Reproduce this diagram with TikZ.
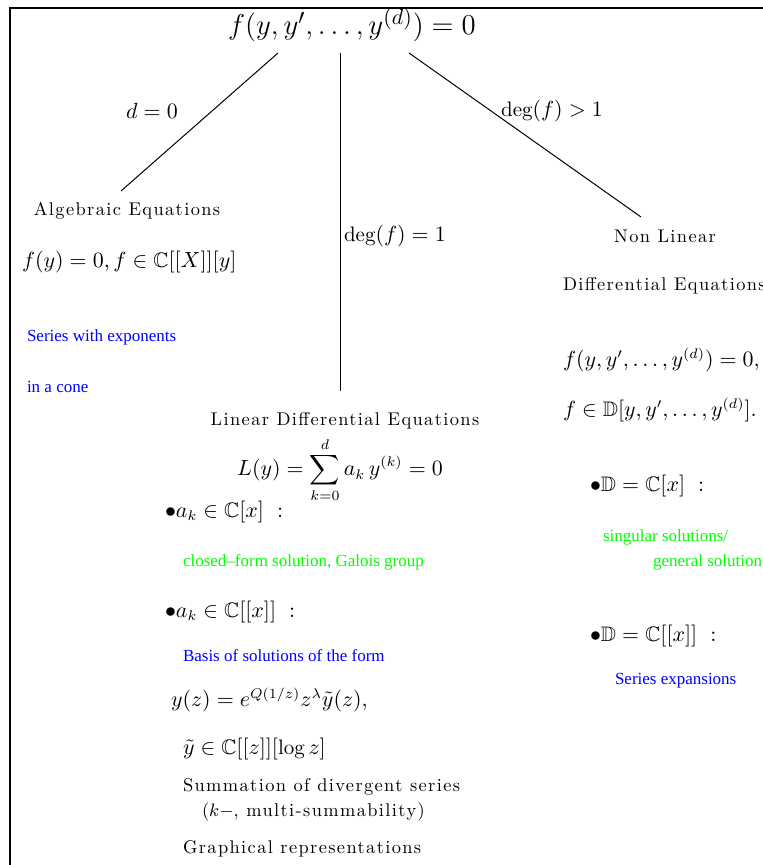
\documentclass[tikz,border=0pt]{standalone}
\usepackage{amsmath,amssymb}
\usepackage{fontspec}
\newfontfamily\tms{Liberation Serif}
\newfontfamily\lmls{lmroman10-regular.otf}[LetterSpace=7.5]
\definecolor{refblue}{RGB}{0,0,255}
\definecolor{refgreen}{RGB}{0,255,0}
\begin{document}
\begin{tikzpicture}[x=0.5pt,y=-0.5pt,
  every node/.style={inner sep=0pt, outer sep=0pt},
  lbl/.style={font=\lmls\fontsize{9.2}{11}\selectfont},
  mth/.style={font=\fontsize{10.5}{12}\selectfont},
  blu/.style={text=refblue, font=\tms\fontsize{8.5}{10}\selectfont},
  grn/.style={text=refgreen, font=\tms\fontsize{8.5}{10}\selectfont},
  edge/.style={line width=0.5pt}]
\useasboundingbox (0,0) rectangle (763,865);
\clip (0,0) rectangle (763,865);
\draw[line width=1pt] (10,8) rectangle (900,1000);

% title
\node[font=\fontsize{15.3}{18}\selectfont] (title) at (352,25) {$f(y,y',\ldots,y^{(d)})=0$};
\coordinate (tl) at (278,53);
\coordinate (tm) at (340,53);
\coordinate (tr) at (409,53);
\coordinate (el) at (121,191);
\coordinate (em) at (340,391);
\coordinate (er) at (641,217);
\draw[edge] (tl) -- (el);
\draw[edge] (tm) -- (em);
\draw[edge] (tr) -- (er);

\node[mth] (d0) at (152,111) {$d=0$};
\node[mth] (dg1) at (552,111) {$\deg(f)>1$};
\node[mth,anchor=west] (de1) at (344,236) {$\deg(f)=1$};

% left branch
\node[lbl] (alg) at (127,211) {Algebraic Equations};
\node[mth,anchor=west] (alg1) at (22,262) {$f(y)=0, f\in\mathbb{C}[[X]][y]$};
\node[blu,anchor=west] (alg2) at (27,337) {Series with exponents};
\node[blu,anchor=west] (alg3) at (27,387) {in a cone};

% right branch
\node[lbl] (nl) at (665,236) {Non Linear};
\node[lbl,anchor=west] (nl1) at (563,286) {Differential Equations};
\node[mth,anchor=west] (nl2) at (563,360) {$f(y,y',\ldots,y^{(d)})=0,$};
\node[mth,anchor=west] (nl3) at (563,410) {$f\in\mathbb{D}[y,y',\ldots,y^{(d)}].$};
\node[mth,anchor=west] (nl4) at (590,486) {$\bullet\mathbb{D}=\mathbb{C}[x]\ :$};
\node[grn,anchor=west] (nl5) at (603,537) {singular solutions/};
\node[grn,anchor=west] (nl6) at (653,562) {general solution};
\node[mth,anchor=west] (nl7) at (590,636) {$\bullet\mathbb{D}=\mathbb{C}[[x]]\ :$};
\node[blu,anchor=west] (nl8) at (615,681) {Series expansions};

% middle branch
\node[lbl] (lin) at (345,421) {Linear Differential Equations};
\node[mth] (lin1) at (340,470) {$\displaystyle L(y)=\sum_{k=0}^{d}a_k\,y^{(k)}=0$};
\node[mth,anchor=west] (lin2) at (165,512) {$\bullet a_k\in\mathbb{C}[x]\ :$};
\node[grn,anchor=west] (lin3) at (183,562) {closed–form solution, Galois group};
\node[mth,anchor=west] (lin4) at (165,612) {$\bullet a_k\in\mathbb{C}[[x]]\ :$};
\node[blu,anchor=west] (lin5) at (183,656) {Basis of solutions of the form};
\node[mth,anchor=west] (lin6) at (171,700) {$y(z)=e^{Q(1/z)}z^{\lambda}\tilde{y}(z),$};
\node[mth,anchor=west] (lin7) at (183,749) {$\tilde{y}\in\mathbb{C}[[z]][\log z]$};
\node[lbl,anchor=west] (lin8) at (183,787) {Summation of divergent series};
\node[lbl,anchor=west] (lin9) at (202,812) {($k-$, multi-summability)};
\node[lbl,anchor=west] (lin10) at (183,849) {Graphical representations};
\end{tikzpicture}
\end{document}
